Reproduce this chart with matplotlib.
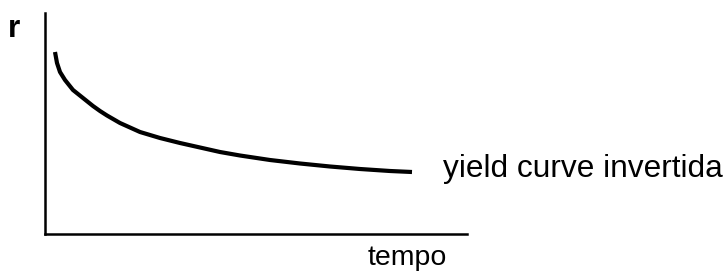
import matplotlib as mpl
mpl.use('Agg')
import matplotlib.pyplot as plt

# curve (arbitrary units: tempo, r)
tempo = [10, 12, 15, 20, 28, 38, 48, 55, 62, 75, 95, 115, 135, 155, 175, 195,
         225, 255, 285, 315, 345, 367]
r_val = [182, 171, 162, 154, 144, 136, 128, 123, 118.5, 111, 102, 96, 91, 86.5, 82, 78.5,
         74, 70.5, 67.5, 65, 63, 62]

label_x = 'tempo'
label_y = 'r'
curve_label = 'yield curve invertida'

plt.rcParams['font.family'] = ['Liberation Sans', 'DejaVu Sans']

W, H = 727, 275
fig = plt.figure(figsize=(W / 100, H / 100), dpi=100)
ax = fig.add_axes([45 / W, 1 - 234 / H, (467 - 45) / W, (234 - 13) / H])
ax.plot(tempo, r_val, color='black', lw=3, solid_capstyle='butt', solid_joinstyle='round')
ax.set_xlim(0, 422)
ax.set_ylim(0, 221)
for s in ['top', 'right']:
    ax.spines[s].set_visible(False)
for s in ['left', 'bottom']:
    ax.spines[s].set_linewidth(1.8)
ax.set_xticks([])
ax.set_yticks([])

fig.text(8 / W, 1 - 37 / H, label_y, fontsize=22.8, fontweight='bold', va='baseline', ha='left')
fig.text(368 / W, 1 - 265 / H, label_x, fontsize=20.5, va='baseline', ha='left')
fig.text(443 / W, 1 - 177 / H, curve_label, fontsize=22.8, va='baseline', ha='left')

fig.savefig('out.png', dpi=100)
